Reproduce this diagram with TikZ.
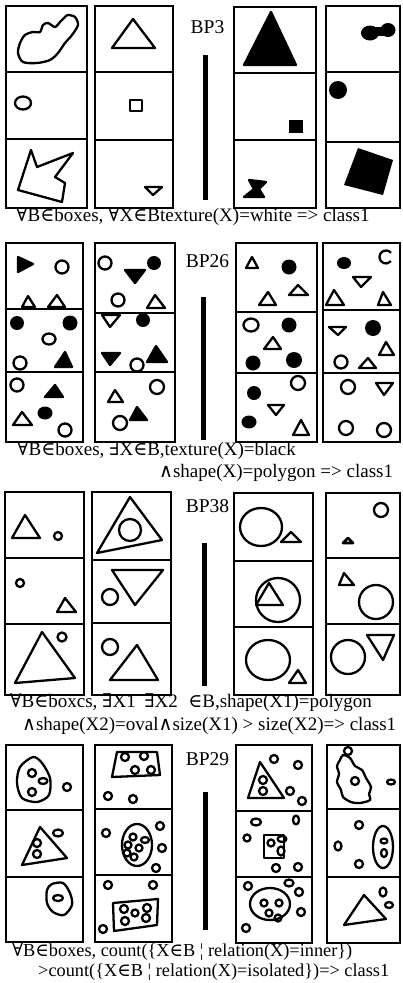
\documentclass[tikz,border=0pt]{standalone}
\usepackage{fontspec}
\setmainfont{Liberation Serif}
\newfontfamily\mysymfam{DejaVu Serif}
\newcommand\myall{{\mysymfam ∀}}
\newcommand\myex{{\mysymfam ∃}}
\newcommand\myin{{\mysymfam ∈}}
\newcommand\myand{{\mysymfam ∧}}
\newcommand\bpbox[6]{\draw[boxst] (#1,#3) rectangle (#2,#6); \draw[boxst] (#1,#4) -- (#2,#4); \draw[boxst] (#1,#5) -- (#2,#5);}
\newcommand\sOC[3]{\draw[shp] (#1,#2) circle[radius=#3pt];}
\newcommand\sFC[3]{\fill (#1,#2) circle[radius=#3pt];}
\newcommand\sOE[4]{\draw[shp] (#1,#2) circle[x radius=#3pt,y radius=#4pt];}
\newcommand\sFE[4]{\fill (#1,#2) circle[x radius=#3pt,y radius=#4pt];}
\newcommand\sOT[3]{\draw[shp] (#1)--(#2)--(#3)--cycle;}
\newcommand\sFT[3]{\filldraw[shp] (#1)--(#2)--(#3)--cycle;}
\begin{document}
\begin{tikzpicture}[x=1pt,y=-1pt,
  boxst/.style={line width=2.6pt,line join=miter},
  shp/.style={line width=2.3pt,line join=round},
  barst/.style={fill=black},
  captext/.style={anchor=base west,inner sep=0pt,font=\fontsize{19}{19}\selectfont},
  smallcap/.style={captext,font=\fontsize{18.3}{18.3}\selectfont},
  lbltext/.style={anchor=base,inner sep=0pt,font=\fontsize{19.5}{19.5}\selectfont}]
\useasboundingbox (0,0) rectangle (402,983);
\fill[white] (0,0) rectangle (402,983);

% ================= BP3 =================
\bpbox{6}{87}{6}{72}{139}{208}
\bpbox{95}{173}{6}{72}{140}{208}
\bpbox{234}{316}{7}{73}{140}{208}
\bpbox{326}{400}{6}{72}{142}{208}
\node[lbltext] (lbl1) at (207.5,33) {BP3};
\fill[barst] (202.5,55) rectangle (208,200);
% box A
\draw[shp] plot[smooth cycle] coordinates {(68,15) (75,17) (78,25) (72,35) (65,43) (58,53) (50,60) (37,63) (23,62) (18,53) (20,43) (25,35) (33,32) (40,32) (43,25) (48,23) (55,27) (60,22) (65,17)};
\sOE{23}{103}{8}{6.5}
\draw[shp] (31,150) -- (37,167) -- (73,153) -- (55,177) -- (65,183) -- (62,202) -- (18,190) -- cycle;
% box B
\sOT{112,48}{133,19}{155,48}
\draw[shp] (130,100) rectangle (142,111);
\sOT{145,187}{162,187}{153,195}
% box C
\sFT{244,65}{271,12}{296,65}
\fill (289,120) rectangle (303,133);
\filldraw[shp] (249,180) -- (266,182) -- (259,189) -- (264,197) -- (244,197) -- (254,189) -- cycle;
% box D
\sFE{370}{33}{9}{7.5}
\sFE{388}{30}{7.5}{7}
\fill (370,27) rectangle (388,36);
\sFC{338}{90}{9}
\fill (358,148) -- (393,160) -- (383,195) -- (344,185) -- cycle;
\node[captext] (cap1) at (16,221) {\myall B\myin boxes, \myall X\myin Btexture(X)=white => class1};

% ================= BP26 =================
\bpbox{6}{83}{243}{309}{372}{442}
\bpbox{95}{175}{243}{313}{372}{442}
\bpbox{236}{317}{243}{312}{373}{442}
\bpbox{323}{400}{243}{310}{373}{442}
\node[lbltext] (lbl2) at (207.5,267) {BP26};
\fill[barst] (200.5,297) rectangle (206,440);
% box A
\sFT{18,257}{33,264}{18,272}
\sOC{62}{267}{6.5}
\sOT{22,307}{28,296}{35,307}
\sOT{48,307}{57,295}{65,307}
\sFC{17}{323}{7}
\sFC{70}{323}{7.5}
\sOE{49}{339}{6.5}{5.5}
\sOC{20}{363}{6.5}
\sFT{55,367}{65,352}{72,367}
\sOC{17}{385}{6.5}
\sFT{45,397}{55,385}{63,397}
\sOT{13,425}{22,412}{32,425}
\sFE{45}{413}{7.5}{6.5}
\sOC{65}{430}{6.5}
% box B
\sOC{105}{263}{6.5}
\sFT{125,270}{145,270}{135,283}
\sFC{154}{263}{7}
\sOC{118}{300}{6.5}
\sOT{147,308}{155,295}{165,308}
\sOT{102,315}{120,315}{110,327}
\sFC{143}{320}{7}
\sFT{102,353}{120,353}{110,365}
\sOC{137}{365}{6.5}
\sFT{147,362}{156,346}{167,362}
\sOT{108,402}{115,390}{123,402}
\sOC{157}{387}{7}
\sFT{130,420}{137,407}{147,420}
\sOC{120}{423}{7}
% box C
\sOT{246,268}{252,257}{258,268}
\sFC{289}{267}{7.5}
\sOT{259,305}{268,292}{276,305}
\sOT{289,295}{298,285}{308,295}
\sOE{251}{325}{7.5}{6.5}
\sFC{289}{325}{7.5}
\sOT{264,349}{273,337}{281,349}
\sFC{253}{363}{7.5}
\sFC{294}{360}{8}
\sFC{254}{393}{7}
\sOC{298}{383}{7}
\sOT{268,405}{284,405}{276,415}
\sFE{249}{422}{7.5}{6.5}
\sOT{293,435}{301,420}{309,435}
% box D
\sFE{344}{263}{7}{6}
\draw[shp] (386,257) ++(40:6.5pt) arc[start angle=40,end angle=320,radius=6.5pt];
\sOT{353,277}{371,277}{361,287}
\sOT{326,305}{334,290}{344,305}
\sOT{378,305}{383,292}{391,305}
\sOT{329,327}{346,327}{338,335}
\sFC{373}{328}{8}
\sOT{379,355}{386,342}{394,355}
\sOC{341}{362}{6.5}
\sOT{359,368}{368,358}{376,368}
\sOC{348}{387}{7}
\sOT{376,383}{393,383}{384,395}
\sOC{346}{428}{7}
\sOC{384}{430}{7}
\node[captext] (cap2a) at (17,455) {\myall B\myin boxes, \myex X\myin B,texture(X)=black};
\node[captext] (cap2b) at (159,477) {\myand shape(X)=polygon => class1};

% ================= BP38 =================
\bpbox{5}{84}{492}{558}{624}{695}
\bpbox{92}{171}{492}{560}{623}{695}
\bpbox{234}{313}{493}{561}{627}{695}
\bpbox{326}{400}{493}{558}{624}{695}
\node[lbltext] (lbl3) at (207.5,512) {BP38};
\fill[barst] (201.5,543) rectangle (207,686);
% box A
\sOT{12,538}{25,515}{40,538}
\sOC{58}{536}{4}
\sOC{20}{583}{4}
\sOT{57,612}{65,598}{76,612}
\sOT{15,683}{42,632}{75,678}
\sOC{62}{637}{4.5}
% box B
\sOT{97,553}{130,497}{162,540}
\sOC{130}{530}{11}
\sOT{112,570}{163,570}{135,605}
\sOC{110}{597}{8}
\sOC{110}{647}{8}
\sOT{110,680}{137,645}{158,680}
% box C
\sOE{261}{527}{21}{19}
\sOT{281,542}{291,532}{301,542}
\sOC{278}{600}{22}
\sOT{256,605}{269,583}{283,605}
\sOE{268}{660}{22}{20}
\sOT{289,683}{298,670}{306,683}
% box D
\sOC{381}{510}{7}
\draw[line width=2.8pt,line join=round] (343,543)--(348,538)--(353,543)--cycle;
\sOT{339,585}{344,573}{354,585}
\sOC{376}{602}{17}
\sOC{348}{657}{17}
\sOT{367,635}{394,635}{383,660}
\node[captext] (cap3a) at (10,707) {\myall B\myin boxcs, \myex X1\hspace{0.45em}\myex X2\hspace{0.3em} \myin B,shape(X1)=polygon};
\node[captext] (cap3b) at (22,730) {\myand shape(X2)=oval\myand size(X1) > size(X2)=> class1};

% ================= BP29 =================
\bpbox{6}{83}{745}{810}{877}{942}
\bpbox{95}{172}{745}{809}{875}{942}
\bpbox{236}{312}{745}{811}{877}{943}
\bpbox{327}{400}{745}{809}{877}{943}
\node[lbltext] (lbl4) at (207.5,765) {BP29};
\fill[barst] (202.5,792) rectangle (208,930);
% box A
\draw[shp] plot[smooth cycle] coordinates {(20,767) (33,757) (42,763) (50,778) (49,795) (37,802) (22,798) (17,783)};
\sOC{32}{773}{4}
\sOE{43}{781}{4.5}{3}
\sOC{32}{792}{4}
\sOC{67}{787}{4}
\sOT{22,865}{40,827}{67,858}
\sOC{37}{843}{4}
\sOC{37}{854}{4}
\sOE{58}{833}{5}{3.5}
\draw[shp] plot[smooth cycle] coordinates {(52,884) (63,883) (70,893) (72,905) (64,915) (53,912) (47,903) (47,890)};
\sOE{58}{898}{5}{3}
% box B
\draw[shp] (117,752) -- (157,752) -- (160,775) -- (112,777) -- cycle;
\sOC{125}{757}{4}
\sOC{144}{756}{4}
\sOC{135}{770}{4}
\sOC{151}{770}{4}
\sOC{108}{796}{4}
\sOC{133}{799}{4}
\sOE{137}{845}{15}{21}
\sOC{133}{837}{3.5}
\sOE{145}{840}{4}{3}
\sOC{128}{845}{3.5}
\sOC{139}{848}{3.5}
\sOC{127}{853}{3.5}
\sOC{134}{857}{3.5}
\sOC{106}{833}{4}
\sOC{160}{826}{4}
\sOC{162}{848}{4}
\sOC{156}{868}{4}
\draw[shp] (113,903) -- (158,899) -- (157,925) -- (114,931) -- cycle;
\sOC{124}{909}{4}
\sOC{135}{913}{3.5}
\sOC{147}{908}{4}
\sOC{125}{921}{4}
\sOC{146}{918}{4}
\sOC{108}{885}{4}
\sOC{153}{885}{4}
\sOC{103}{929}{4}
% box C
\sOT{248,798}{260,762}{284,798}
\sOC{263}{780}{4}
\sOC{263}{791}{4}
\sOC{274}{759}{4}
\sOC{298}{765}{4}
\sOC{290}{791}{4}
\sOC{302}{801}{4}
\draw[shp] (264,835) rectangle (284,858);
\sOC{271}{843}{3.5}
\sOE{282}{839}{4.5}{3}
\sOE{281}{851}{3.5}{4.5}
\sOE{256}{822}{5}{3.5}
\sOE{296}{820}{3}{4.5}
\sOC{247}{838}{3.5}
\sOC{276}{868}{4}
\sOC{298}{867}{4}
\sOE{270}{904}{20}{16}
\sOC{264}{903}{3.5}
\sOC{279}{903}{3.5}
\sOC{269}{913}{3.5}
\sOC{278}{918}{3.5}
\sOC{248}{886}{4}
\sOE{289}{883}{4.5}{3.5}
\sOC{299}{892}{4}
\sOC{301}{912}{4}
\sOC{246}{928}{4}
% box D
\draw[shp] plot[smooth cycle] coordinates {(343,755) (350,758) (355,766) (362,770) (366,778) (371,787) (369,794) (370,800) (360,803) (351,802) (343,797) (341,790) (337,782) (339,774) (337,766) (340,760)};
\sOC{348}{751}{4}
\sOC{355}{781}{4}
\sOE{391}{782}{4}{2.5}
\sOE{383}{847}{10}{21}
\sOE{384}{841}{3.5}{2.5}
\sOE{384}{853}{3}{4}
\sOC{359}{825}{4}
\sOE{338}{846}{3.5}{4.5}
\sOC{359}{864}{4}
\sOT{344,925}{364,895}{386,919}
\sOE{383}{892}{3.5}{4.5}
\sOE{389}{905}{4}{3}
\node[smallcap] (cap4a) at (12,956) {\myall B\myin boxes, count(\{X\myin B ¦ relation(X)=inner\})};
\node[smallcap] (cap4b) at (38,976) {>count(\{X\myin B ¦ relation(X)=isolated\})=> class1};
\end{tikzpicture}
\end{document}
